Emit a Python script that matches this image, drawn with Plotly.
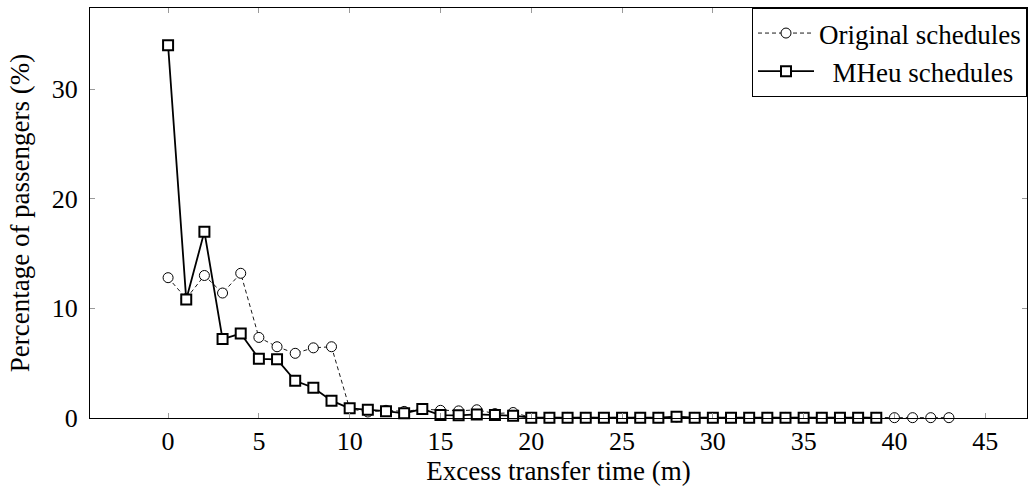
import plotly.graph_objects as go

# Excess transfer time (minutes)
orig_minutes = list(range(0, 44))
mheu_minutes = list(range(0, 40))

# Percentage of passengers, original schedules
orig_pct = [12.8, 10.9, 13.0, 11.4, 13.2, 7.35, 6.5, 5.9, 6.4, 6.5,
            0.85, 0.55, 0.7, 0.6, 0.8, 0.7, 0.65, 0.75, 0.4, 0.5,
            0.05, 0.05, 0.05, 0.05, 0.05, 0.05, 0.05, 0.05, 0.1, 0.05,
            0.05, 0.05, 0.05, 0.05, 0.05, 0.05, 0.05, 0.05, 0.05, 0.05,
            0.03, 0.03, 0.03, 0.03]

# Percentage of passengers, MHeu schedules
mheu_pct = [34.0, 10.8, 17.0, 7.2, 7.7, 5.4, 5.35, 3.4, 2.76, 1.58,
            0.88, 0.76, 0.62, 0.43, 0.82, 0.27, 0.24, 0.33, 0.27, 0.21,
            0.03, 0.03, 0.03, 0.03, 0.03, 0.03, 0.03, 0.03, 0.12, 0.03,
            0.03, 0.03, 0.03, 0.03, 0.03, 0.03, 0.03, 0.03, 0.03, 0.03]

x_ticks = [0, 5, 10, 15, 20, 25, 30, 35, 40, 45]
y_ticks = [0, 10, 20, 30]

FONT = "Liberation Serif"
FS = 27       # axis titles
FS_LEG = 27   # legend entries
FS_TICK = 26  # tick labels

fig = go.Figure()

fig.add_trace(go.Scatter(
    x=orig_minutes, y=orig_pct, name="Original schedules",
    mode="lines+markers", legendgroup="a",
    line=dict(color="black", width=0.9, dash="4px,3px"),
    marker=dict(symbol="circle", size=10, color="white",
                line=dict(color="black", width=1)),
    cliponaxis=False,
))

fig.add_trace(go.Scatter(
    x=mheu_minutes, y=mheu_pct, name="\u00a0\u00a0MHeu schedules",
    mode="lines+markers", legendgroup="b",
    line=dict(color="black", width=1.8),
    marker=dict(symbol="square", size=10, color="white",
                line=dict(color="black", width=2)),
    cliponaxis=False,
))

axis_common = dict(
    showline=True, linecolor="black", linewidth=1, mirror="allticks",
    ticks="inside", ticklen=5, tickcolor="#9a9a9a", tickwidth=1,
    showgrid=False, zeroline=False,
    tickfont=dict(family=FONT, size=FS_TICK, color="black"),
)

fig.update_layout(
    width=1029, height=487,
    margin=dict(l=90, r=2, t=8, b=69),
    paper_bgcolor="white", plot_bgcolor="white",
    font=dict(family=FONT, size=FS, color="black"),
    xaxis=dict(range=[-4.3, 47.3], tickvals=x_ticks, ticklabelstandoff=0,
               title=dict(text="Excess transfer time (m)", standoff=0,
                          font=dict(family=FONT, size=FS)),
               **axis_common),
    yaxis=dict(range=[0, 37.4], tickvals=y_ticks, ticklabelstandoff=6,
               title=dict(text="Percentage of passengers (%)", standoff=14,
                          font=dict(family=FONT, size=FS)),
               **axis_common),
    legend=dict(x=1, y=1, xanchor="right", yanchor="top",
                bgcolor="white", bordercolor="black", borderwidth=1,
                traceorder="grouped", tracegroupgap=0, itemwidth=56,
                font=dict(family=FONT, size=FS_LEG, color="black")),
    showlegend=True,
)

fig.write_html("out.html")
